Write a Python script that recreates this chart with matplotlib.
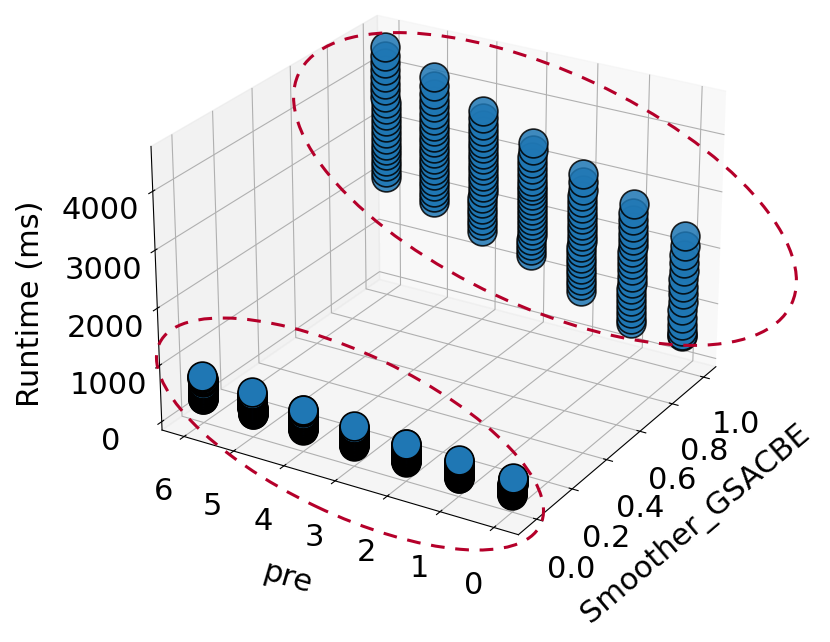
import matplotlib
matplotlib.use("Agg")
import matplotlib.pyplot as plt
from matplotlib.patches import Ellipse

plt.rcParams["font.size"] = 22

pre_levels = [0, 1, 2, 3, 4, 5, 6]
smoother_levels = [0, 1]

# runtime (ms) with Smoother_GSACBE = 0, one list per pre level (0..6)
runtime_smoother0 = [
    [150, 160, 170, 180, 190, 200, 210, 220, 230, 240, 250, 260, 270, 280,
     290, 300, 310, 320, 330, 340, 350, 360, 370, 380, 390, 400, 410, 420,
     430, 440],
    [170, 180, 190, 200, 210, 220, 230, 240, 250, 260, 270, 280, 290, 300,
     310, 320, 330, 340, 350, 360, 370, 380, 390, 400, 410, 420, 435, 450,
     465, 480],
    [190, 200, 210, 220, 230, 240, 250, 260, 270, 280, 290, 300, 310, 320,
     330, 340, 350, 360, 370, 380, 390, 400, 410, 420, 435, 450, 465, 480,
     495, 510],
    [210, 220, 230, 240, 250, 260, 270, 280, 290, 300, 310, 320, 330, 340,
     350, 360, 370, 380, 390, 400, 410, 420, 435, 450, 465, 480, 500, 515,
     530, 550],
    [230, 240, 250, 260, 270, 280, 290, 300, 310, 320, 330, 340, 350, 360,
     370, 380, 390, 400, 410, 425, 440, 455, 470, 485, 500, 520, 540, 560,
     575, 590],
    [250, 260, 270, 280, 290, 300, 310, 320, 330, 340, 350, 360, 370, 380,
     390, 400, 410, 425, 440, 455, 470, 485, 500, 520, 540, 560, 580, 600,
     620, 640],
    [270, 280, 290, 300, 310, 320, 330, 340, 350, 360, 370, 380, 390, 400,
     415, 430, 445, 460, 475, 490, 510, 530, 550, 570, 590, 610, 630, 650,
     670, 690],
]

# runtime (ms) with Smoother_GSACBE = 1, one list per pre level (0..6)
runtime_smoother1 = [
    [490, 520, 580, 690, 830, 970, 1110, 1250, 1390, 1530, 1670, 1810,
     1960, 2110, 2290],
    [500, 570, 680, 790, 900, 1010, 1120, 1230, 1340, 1450, 1560, 1670,
     1780, 1890, 2000, 2110, 2230, 2350, 2490, 2650],
    [850, 950, 1050, 1150, 1250, 1350, 1450, 1550, 1650, 1750, 1850, 1950,
     2050, 2150, 2250, 2350, 2460, 2570, 2680, 2810, 2960],
    [1280, 1370, 1460, 1550, 1640, 1730, 1820, 1910, 2000, 2090, 2180,
     2270, 2360, 2450, 2540, 2630, 2730, 2830, 2940, 3050, 3170, 3300],
    [1500, 1600, 1700, 1800, 1900, 2000, 2100, 2200, 2300, 2400, 2500,
     2600, 2700, 2800, 2900, 3000, 3100, 3200, 3310, 3420, 3540, 3670],
    [1800, 1900, 2000, 2100, 2200, 2300, 2400, 2500, 2600, 2700, 2800,
     2900, 3000, 3100, 3200, 3310, 3420, 3530, 3650, 3770, 3910, 4070],
    [2050, 2150, 2250, 2350, 2450, 2550, 2650, 2750, 2860, 2970, 3080,
     3190, 3300, 3410, 3520, 3640, 3760, 3880, 4000, 4130, 4260, 4420],
]

fig = plt.figure(figsize=(8.3, 6.42), dpi=100)
ax = fig.add_axes([0.027, 0.083, 0.995, 0.995], projection="3d")

for s, table, alpha in zip(smoother_levels,
                           [runtime_smoother0, runtime_smoother1],
                           [1.0, 0.85]):
    xs, ys, zs = [], [], []
    for p, values in zip(pre_levels, table):
        for v in values:
            xs.append(s)
            ys.append(p)
            zs.append(v)
    ax.scatter(xs, ys, zs, s=430, c="#1f77b4", edgecolors="black",
               linewidths=1.2, alpha=alpha, depthshade=False)

ax.set_xlabel("Smoother_GSACBE", labelpad=28)
ax.set_ylabel("pre", labelpad=30)
ax.yaxis.set_rotate_label(True)
ax.zaxis.set_rotate_label(False)
ax.set_zlabel("Runtime (ms)", labelpad=30, rotation=90)
ax.set_xticks([0.0, 0.2, 0.4, 0.6, 0.8, 1.0])
ax.set_yticks(pre_levels)
ax.set_zticks([0, 1000, 2000, 3000, 4000])
ax.tick_params(axis="both", pad=14)
ax.tick_params(axis="z", pad=13)
ax.set_xlim(-0.1, 1.08)
ax.set_ylim(-0.45, 6.45)
ax.set_zlim(-150, 4750)
ax.view_init(elev=25, azim=-149)

red = "#b5002a"
dash = (0, (4.5, 3.5))
fig.add_artist(Ellipse((3.50, (642 - 434) / 100), 4.22, 1.6, angle=-25.5,
                       transform=fig.dpi_scale_trans, fill=False,
                       edgecolor=red, linewidth=2.2, linestyle=dash))
fig.add_artist(Ellipse((5.45, (642 - 189) / 100), 5.44, 2.34, angle=-25,
                       transform=fig.dpi_scale_trans, fill=False,
                       edgecolor=red, linewidth=2.2, linestyle=dash))

fig.savefig("out.png", dpi=100)
